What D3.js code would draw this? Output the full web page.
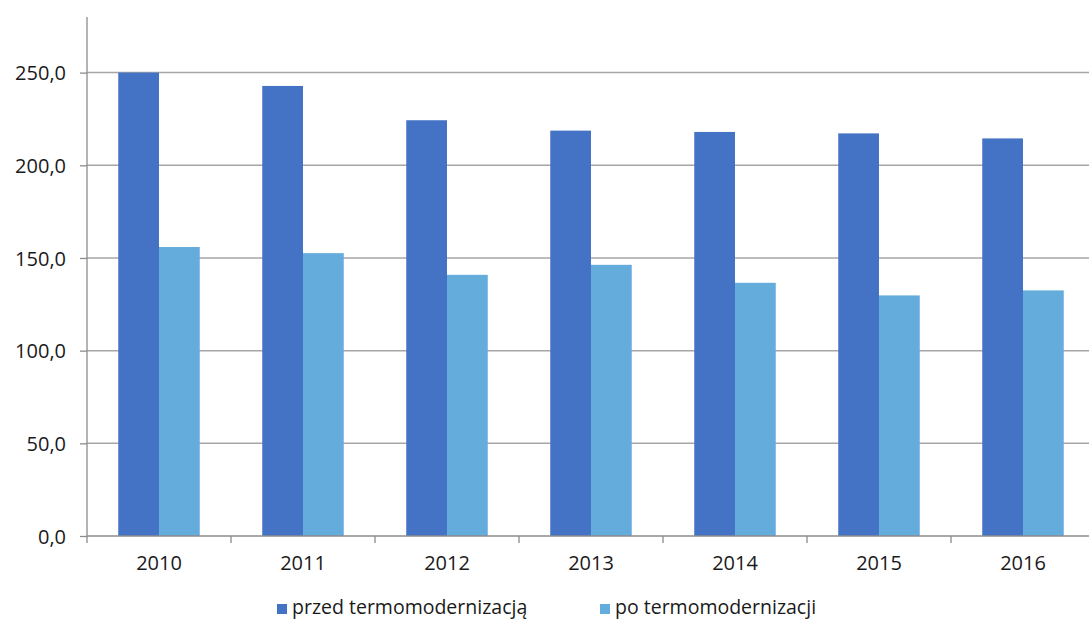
<!DOCTYPE html>
<html>
<head>
<meta charset="utf-8">
<script src="https://cdn.jsdelivr.net/npm/d3@7"></script>
<style>
  html, body { margin: 0; padding: 0; background: #fff; }
  svg { display: block; }
  text { font-family: "Open Sans", sans-serif; fill: #1a1a1a; }
</style>
</head>
<body>
<svg id="chart" width="1089" height="620"></svg>
<script>
const years = ["2010", "2011", "2012", "2013", "2014", "2015", "2016"];
const seriesNames = ["przed termomodernizacją", "po termomodernizacji"];
const przed = [250.0, 242.8, 224.3, 218.7, 218.0, 217.2, 214.5];
const po = [155.9, 152.6, 140.9, 146.3, 136.6, 129.8, 132.5];
const yTicks = [0, 50, 100, 150, 200, 250];
const colors = ["#4472C4", "#64ACDC"];

const svg = d3.select("#chart");
const plotL = 87, plotR = 1095, plotT = 17, plotB = 536;

const x = d3.scaleBand().domain(years).range([plotL, plotR])
  .paddingInner(0.434).paddingOuter(0.217);
const x1 = d3.scaleBand().domain([0, 1]).range([0, x.bandwidth()]).padding(0);
const y = d3.scaleLinear().domain([0, 280]).range([plotB, plotT]);

const fmt = v => d3.format(".1f")(v).replace(".", ",");

// gridlines
svg.append("g").selectAll("line").data(yTicks.filter(d => d > 0)).join("line")
  .attr("x1", plotL).attr("x2", 1089)
  .attr("y1", d => y(d)).attr("y2", d => y(d))
  .attr("stroke", "#a6a6a6").attr("stroke-width", 1.5);

// bars
const data = years.map((yr, i) => ({ yr, vals: [przed[i], po[i]] }));
const g = svg.append("g").selectAll("g").data(data).join("g")
  .attr("transform", d => `translate(${x(d.yr)},0)`);
g.selectAll("rect").data(d => d.vals.map((v, k) => ({ v, k }))).join("rect")
  .attr("x", d => x1(d.k)).attr("width", x1.bandwidth())
  .attr("y", d => y(d.v)).attr("height", d => y(0) - y(d.v))
  .attr("fill", d => colors[d.k]);

// y axis
const yAxis = d3.axisLeft(y).tickValues(yTicks).tickFormat(fmt).tickSize(7).tickPadding(14);
const ya = svg.append("g").attr("transform", `translate(${plotL},0)`).call(yAxis);
ya.select(".domain").remove();
ya.append("line").attr("x1", 0).attr("x2", 0).attr("y1", plotT).attr("y2", plotB)
  .attr("stroke", "#8c8c8c").attr("stroke-width", 1.3);
ya.selectAll(".tick line").attr("stroke", "#8c8c8c").attr("stroke-width", 1.3);
ya.selectAll(".tick text").style("font-family", "'Open Sans', sans-serif")
  .style("font-size", "20px").attr("fill", "#1a1a1a").attr("dy", "0.36em");

// x axis
const xa = svg.append("g").attr("transform", `translate(0,${plotB})`);
xa.append("line").attr("x1", plotL).attr("x2", 1089).attr("y1", 0).attr("y2", 0)
  .attr("stroke", "#8c8c8c").attr("stroke-width", 1.3);
const bounds = years.map(yr => x(yr) - (x.step() - x.bandwidth()) / 2).concat([plotR]);
xa.selectAll("line.tk").data(bounds).join("line").attr("class", "tk")
  .attr("x1", d => d).attr("x2", d => d).attr("y1", 0).attr("y2", 7)
  .attr("stroke", "#8c8c8c").attr("stroke-width", 1.3);
xa.selectAll("text").data(years).join("text")
  .attr("x", d => x(d) + x.bandwidth() / 2).attr("y", 34)
  .attr("text-anchor", "middle").style("font-size", "20px").text(d => d);

// legend
const legendX = [277, 600];
const lg = svg.append("g").selectAll("g").data(seriesNames).join("g")
  .attr("transform", (d, i) => `translate(${legendX[i]},604)`);
lg.append("rect").attr("width", 10).attr("height", 10).attr("fill", (d, i) => colors[i]);
lg.append("text").attr("x", 15).attr("y", 10).style("font-size", "19.5px").text(d => d);
</script>
</body>
</html>
